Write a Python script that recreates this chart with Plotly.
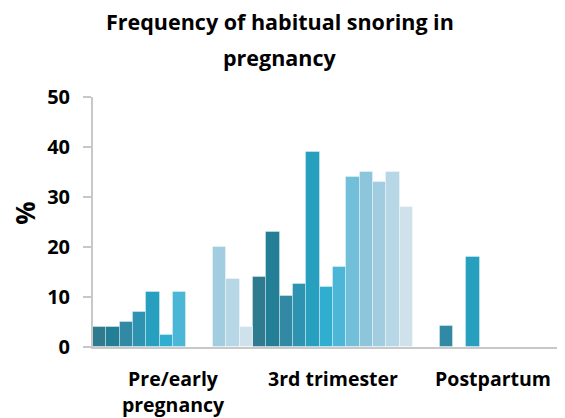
import plotly.graph_objects as go

categories = ['Pre/early<br>pregnancy', '3rd trimester', 'Postpartum']

# one list per study (12 series), values are % per period; None = not reported
series_values = [
    [4, 14, None],
    [4, 23, None],
    [5, 10.3, 4.3],
    [7, 12.7, None],
    [11, 39, 18],
    [2.4, 12, None],
    [11, 16, None],
    [None, 34, None],
    [None, 35, None],
    [20, 33, None],
    [13.7, 35, None],
    [4, 28, None],
]

colors = ['#2e7a8e', '#237f95', '#3189a3', '#2d93b0', '#27a0c0', '#30aed0',
          '#4cb6d6', '#72bfd9', '#8cc5dc', '#a2cde0', '#b7d7e6', '#cfe2ec']

y_ticks = [0, 10, 20, 30, 40, 50]

title_lines = ['Frequency of habitual snoring in', 'pregnancy']

font = 'Open Sans'

fig = go.Figure()
for i, vals in enumerate(series_values):
    fig.add_trace(go.Bar(
        x=categories, y=vals, name='s%d' % (i + 1),
        marker=dict(color=colors[i], line=dict(color='rgba(255,255,255,0.35)', width=1)),
    ))

# page has an 8px body margin, so the figure is a bit smaller than the window
fig.update_layout(
    width=549, height=410,
    barmode='group', bargap=0, bargroupgap=0,
    showlegend=False,
    plot_bgcolor='white', paper_bgcolor='white',
    margin=dict(l=85, r=0, t=89, b=71),
    font=dict(family=font, color='black'),
)

# title as two centred lines, and the rotated % axis title
for txt, yy in zip(title_lines, [1.30, 1.16]):
    fig.add_annotation(text='<b>%s</b>' % txt, xref='paper', yref='paper',
                       x=0.403, y=yy, xanchor='center', yanchor='middle',
                       showarrow=False, font=dict(size=21.5, family=font, color='black'))
fig.add_annotation(text='<b>%</b>', xref='paper', yref='paper', x=-0.147, y=0.536,
                   xanchor='center', yanchor='middle', textangle=-90, showarrow=False,
                   borderpad=0, font=dict(size=26, family=font, color='black'))

fig.update_xaxes(
    range=[-0.5, 2.4], showline=True, linecolor='#c8c8c8', linewidth=2,
    ticks='', showgrid=False, automargin=False,
    tickvals=categories, ticktext=['<b>%s</b>' % c for c in categories],
    tickfont=dict(size=19.5, family=font, color='black'),
    ticklabelstandoff=14,
)
fig.update_yaxes(
    range=[0, 50], tickvals=y_ticks, ticktext=['<b>%d</b>' % v for v in y_ticks],
    showline=True, linecolor='#c8c8c8', linewidth=2,
    ticks='outside', ticklen=8, tickcolor='#c8c8c8', tickwidth=1.5,
    showgrid=False, zeroline=False, automargin=False,
    tickfont=dict(size=20, family=font, color='black'),
    ticklabelstandoff=9,
)

fig.write_html('out.html')
